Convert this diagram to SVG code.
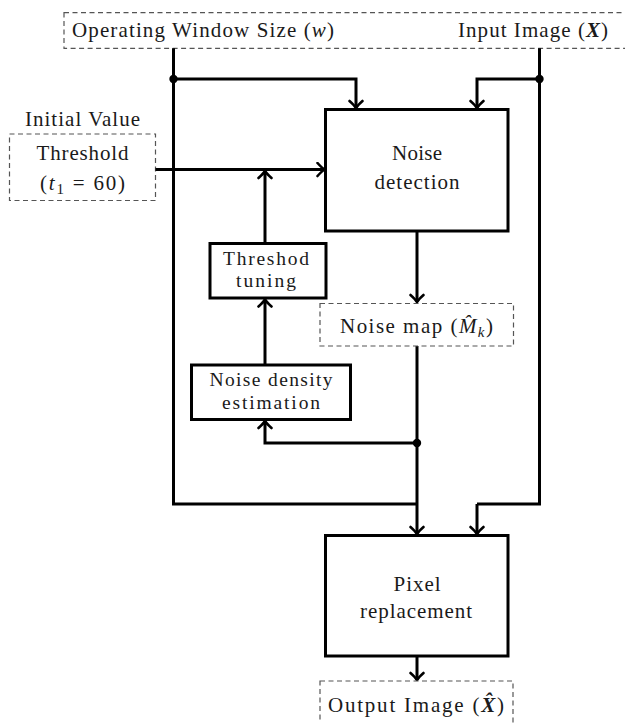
<svg xmlns="http://www.w3.org/2000/svg" width="625" height="723" viewBox="0 0 625 723" font-family="'Liberation Serif', 'DejaVu Serif', serif">
  <style>
    text { font-family: "Liberation Serif", "DejaVu Serif", serif; font-size: 21px; fill: #1a1a1a; }
    .it { font-style: italic; }
    .bi { font-style: italic; font-weight: bold; }
    .tight { font-size: 19.5px; }
    .block { fill: #fff; stroke: #000; stroke-width: 3; }
    .dashed { fill: #fff; stroke: #555; stroke-width: 1.2; stroke-dasharray: 5 3.5; }
    .wire { fill: none; stroke: #000; stroke-width: 3; }
    .arrow { fill: none; stroke: #000; stroke-width: 3; marker-end: url(#tip); }
    .dot { fill: #000; }
  </style>
  <defs>
    <marker id="tip" viewBox="-10 -8 12 16" refX="0" refY="0" markerWidth="12" markerHeight="16" markerUnits="userSpaceOnUse" orient="auto">
      <path d="M-7,-6.5 Q-2.5,-1.5 0,0 Q-2.5,1.5 -7,6.5" fill="none" stroke="#000" stroke-width="2.6" stroke-linecap="round"/>
    </marker>
  </defs>

  <rect width="625" height="723" fill="#fff"/>

  <!-- inputs -->
  <g id="inputs">
    <rect class="dashed" x="64" y="12.7" width="600" height="35.6"/>
    <text x="72" y="36.5" textLength="262" lengthAdjust="spacing">Operating Window Size (<tspan class="it">w</tspan>)</text>
    <text x="458" y="36.5" textLength="150" lengthAdjust="spacing">Input Image (<tspan class="bi">X</tspan>)</text>
  </g>

  <g id="threshold-init">
    <text x="82.5" y="126" text-anchor="middle" textLength="115" lengthAdjust="spacing">Initial Value</text>
    <rect class="dashed" x="9.5" y="134" width="146" height="66.5"/>
    <text x="82.5" y="160" text-anchor="middle" textLength="92" lengthAdjust="spacing">Threshold</text>
    <text x="40" y="190" textLength="85" lengthAdjust="spacing">(<tspan class="it">t</tspan><tspan font-size="15" dy="4">1</tspan><tspan dy="-4"> = 60)</tspan></text>
  </g>

  <!-- connectors -->
  <g id="connectors">
    <path class="wire" d="M173.5,48.3 V504 H417"/>
    <path class="wire" d="M539.5,48.3 V504 H477"/>
    <path class="arrow" d="M173.5,79 H356 V108"/>
    <path class="arrow" d="M539.5,79 H477 V108"/>
    <path class="arrow" d="M155.5,169.5 H324.5"/>
    <path class="arrow" d="M265,243 V171"/>
    <path class="arrow" d="M265,365 V299.5"/>
    <path class="arrow" d="M417,231 V302"/>
    <path class="arrow" d="M417,346 V534"/>
    <path class="arrow" d="M477,504 V534"/>
    <path class="arrow" d="M417,443 H265 V421"/>
    <path class="arrow" d="M417,656 V680"/>
    <circle class="dot" cx="173.5" cy="79" r="4.2"/>
    <circle class="dot" cx="539.5" cy="79" r="4.2"/>
    <circle class="dot" cx="417" cy="443" r="4.2"/>
  </g>

  <!-- processing blocks -->
  <g id="noise-detection">
    <rect class="block" x="325.5" y="109.5" width="182.5" height="121.5"/>
    <text x="417" y="160" text-anchor="middle" textLength="50" lengthAdjust="spacing">Noise</text>
    <text x="417" y="189" text-anchor="middle" textLength="85" lengthAdjust="spacing">detection</text>
  </g>

  <g id="threshold-tuning">
    <rect class="block" x="210" y="243.5" width="116" height="54.5"/>
    <text class="tight" x="266" y="265" text-anchor="middle" textLength="86" lengthAdjust="spacing">Threshod</text>
    <text class="tight" x="266" y="287" text-anchor="middle" textLength="60" lengthAdjust="spacing">tuning</text>
  </g>

  <g id="noise-map">
    <rect class="dashed" x="320" y="303.5" width="193.5" height="42.5"/>
    <text x="340" y="333" textLength="153" lengthAdjust="spacing">Noise map (<tspan class="it">M̂</tspan><tspan class="it" font-size="15" dy="4">k</tspan><tspan dy="-4">)</tspan></text>
  </g>

  <g id="noise-density-estimation">
    <rect class="block" x="191.5" y="365" width="159" height="54.5"/>
    <text class="tight" x="271" y="386" text-anchor="middle" textLength="123" lengthAdjust="spacing">Noise density</text>
    <text class="tight" x="271" y="409" text-anchor="middle" textLength="98" lengthAdjust="spacing">estimation</text>
  </g>

  <g id="pixel-replacement">
    <rect class="block" x="325.5" y="535.5" width="182.5" height="120.5"/>
    <text x="417" y="591" text-anchor="middle" textLength="47" lengthAdjust="spacing">Pixel</text>
    <text x="416" y="618" text-anchor="middle" textLength="112" lengthAdjust="spacing">replacement</text>
  </g>

  <g id="output">
    <rect class="dashed" x="320" y="681" width="193" height="60"/>
    <text x="328" y="711.5" textLength="176" lengthAdjust="spacing">Output Image (<tspan class="bi">X̂</tspan>)</text>
  </g>
</svg>
